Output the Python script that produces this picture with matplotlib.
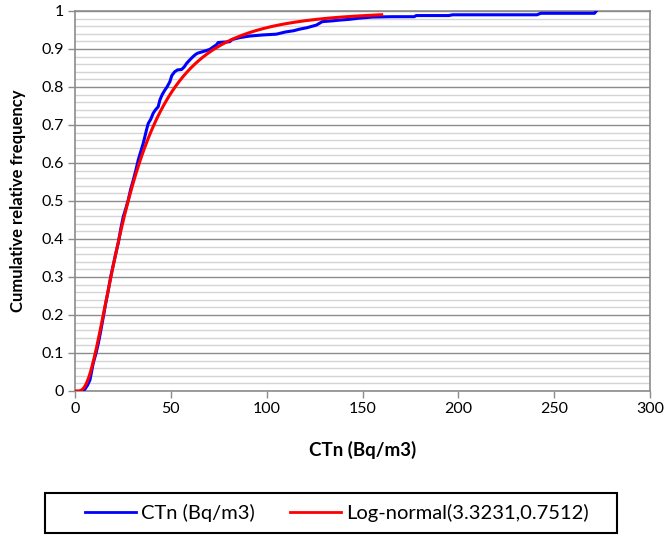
import math
import numpy as np
import matplotlib
matplotlib.use("Agg")
import matplotlib.pyplot as plt
from matplotlib.patches import Rectangle
from matplotlib.ticker import MultipleLocator

# Empirical cumulative distribution of CTn (Bq/m3)
ctn_x = [4.0, 5.2, 6.5, 7.8, 9.5, 11.0, 12.2, 13.5, 14.8, 16.0, 17.4, 18.6, 19.9,
         21.2, 22.6, 24.0, 25.2, 26.5, 27.8, 29.0, 30.4, 31.7, 33.0, 34.3, 35.6,
         36.5, 37.3, 38.2, 39.5, 40.8, 42.0, 43.4, 44.3, 45.5, 46.9, 48.0, 49.5,
         50.5, 52.0, 53.5, 55.6, 57.0, 58.2, 60.0, 61.6, 63.0, 64.0, 66.0, 68.0,
         70.3, 72.0, 73.8, 74.7, 77.0, 80.7, 82.0, 86.0, 91.0, 98.0, 105.0, 110.0,
         114.0, 117.0, 121.0, 126.0, 129.0, 134.0, 138.0, 143.0, 148.0, 155.0,
         165.0, 177.0, 178.0, 195.0, 197.0, 241.0, 243.0, 271.0, 272.0]
ctn_f = [0.0, 0.005, 0.015, 0.029, 0.073, 0.10, 0.126, 0.16, 0.196, 0.23, 0.266,
         0.30, 0.33, 0.36, 0.39, 0.43, 0.459, 0.48, 0.503, 0.53, 0.555, 0.58, 0.608,
         0.63, 0.652, 0.67, 0.687, 0.704, 0.715, 0.731, 0.74, 0.748, 0.766, 0.78,
         0.792, 0.80, 0.814, 0.83, 0.840, 0.845, 0.846, 0.853, 0.862, 0.872, 0.880,
         0.886, 0.889, 0.892, 0.895, 0.899, 0.905, 0.911, 0.917, 0.918, 0.919,
         0.925, 0.93, 0.934, 0.937, 0.939, 0.945, 0.948, 0.952, 0.956, 0.963,
         0.972, 0.974, 0.976, 0.978, 0.981, 0.984, 0.985, 0.985, 0.988, 0.988,
         0.990, 0.990, 0.994, 0.994, 1.0]

# Fitted log-normal parameters (mu, sigma of ln x)
ln_mu = 3.3231
ln_sigma = 0.7512
fit_xmax = 160

series_labels = ["CTn (Bq/m3)", "Log-normal(3.3231,0.7512)"]
y_tick_labels = ["0", "0.1", "0.2", "0.3", "0.4", "0.5", "0.6", "0.7", "0.8", "0.9", "1"]


def lognormal_cdf(x):
    if x <= 0:
        return 0.0
    z = (math.log(x) - ln_mu) / (ln_sigma * math.sqrt(2))
    return 0.5 * (1 + math.erf(z))


fit_x = np.linspace(0, fit_xmax, 400)
fit_f = [lognormal_cdf(v) for v in fit_x]

plt.rcParams["font.family"] = ["Lato", "DejaVu Sans"]

W, H = 667, 535
fig = plt.figure(figsize=(W / 100, H / 100), dpi=100)
ax = fig.add_axes([75 / W, 1 - 391 / H, 575 / W, 380 / H])

blue_line, = ax.plot(ctn_x, ctn_f, color="#0000ff", lw=2.2,
                     solid_joinstyle="round", zorder=3)
red_line, = ax.plot(fit_x, fit_f, color="#ff0000", lw=2.2, zorder=4)

ax.set_xlim(0, 300)
ax.set_ylim(0, 1)
ax.xaxis.set_major_locator(MultipleLocator(50))
ax.set_yticks(np.arange(0, 1.01, 0.1))
ax.set_yticklabels(y_tick_labels)
ax.yaxis.set_minor_locator(MultipleLocator(0.02))

ax.grid(which="minor", axis="y", color="#d4d4d4", lw=1.0, zorder=0)
ax.grid(which="major", axis="y", color="#8c8c8c", lw=1.0, zorder=1)
ax.set_axisbelow(True)

for s in ax.spines.values():
    s.set_color("#8c8c8c")
    s.set_linewidth(1.2)

ax.tick_params(axis="both", which="major", direction="out", length=5,
               color="#8c8c8c", width=1.0, labelsize=11.5, pad=3)
ax.tick_params(axis="y", which="minor", length=0)

ax.set_xlabel("CTn (Bq/m3)", fontsize=13.5, fontweight="bold", labelpad=18)
ax.set_ylabel("Cumulative relative frequency", fontsize=12, fontweight="bold",
              labelpad=11)

# Legend: one entry per series, placed in a row inside a shared frame
legend_opts = dict(loc="center left", fontsize=14.5, frameon=False,
                   handlelength=2.55, handletextpad=0.25, borderaxespad=0,
                   borderpad=0)
for line, label, x0 in ((blue_line, series_labels[0], 85),
                        (red_line, series_labels[1], 290)):
    leg = fig.legend([line], [label], bbox_to_anchor=(x0 / W, 1 - 513 / H),
                     **legend_opts)
    for h in leg.get_lines():
        h.set_linewidth(2.0)

fig.patches.append(Rectangle((45 / W, 1 - 533 / H), 572 / W, 40 / H,
                             transform=fig.transFigure, fill=False,
                             edgecolor="black", linewidth=1.5))

fig.savefig("out.png", dpi=100)
